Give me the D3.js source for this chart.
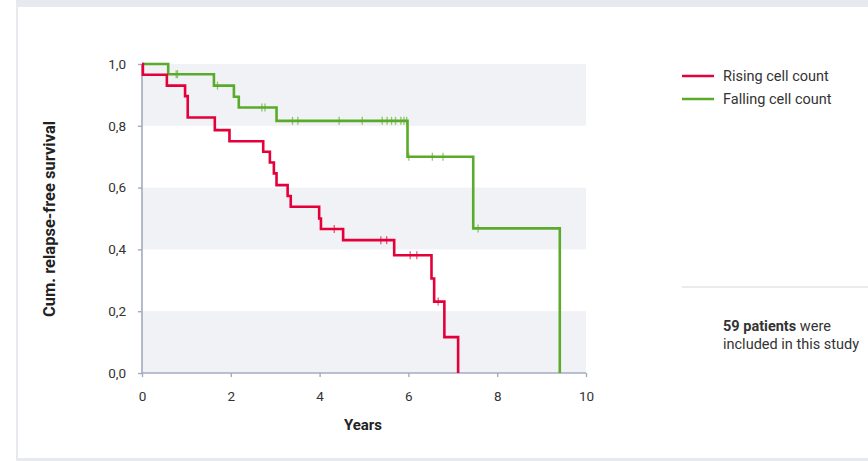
<!DOCTYPE html>
<html>
<head>
<meta charset="utf-8">
<script src="https://cdn.jsdelivr.net/npm/d3@7"></script>
<style>
  body { margin: 0; background: #fff; }
  svg { display: block; font-family: Roboto, "DejaVu Sans", sans-serif; }
</style>
</head>
<body>
<svg id="chart" width="868" height="461"></svg>
<script>
// step data
const risingTimes = [0, 0.02, 0.56, 0.97, 1.03, 1.64, 1.97, 2.73, 2.88, 2.97, 3.03, 3.28, 3.35, 3.99, 4.03, 4.53, 5.68, 6.52, 6.58, 6.81, 7.12];
const risingSurv  = [1.0, 0.965, 0.93, 0.896, 0.827, 0.786, 0.75, 0.716, 0.681, 0.646, 0.608, 0.573, 0.538, 0.50, 0.466, 0.43, 0.381, 0.306, 0.231, 0.116, 0];
const risingCensor = [4.33, 5.38, 5.51, 6.04, 6.19, 6.67];

const fallingTimes = [0, 0.59, 1.62, 2.07, 2.18, 3.03, 5.98, 7.46, 9.41];
const fallingSurv  = [1.0, 0.967, 0.93, 0.894, 0.859, 0.816, 0.70, 0.468, 0];
const fallingCensor = [0.77, 0.80, 1.70, 2.70, 2.77, 3.39, 3.51, 4.44, 4.96, 5.41, 5.52, 5.62, 5.71, 5.83, 5.90, 5.96, 6.01, 6.54, 6.78, 7.57];

const xTicks = [0, 2, 4, 6, 8, 10];
const yTicks = [0, 0.2, 0.4, 0.6, 0.8, 1.0];
const yTickLabels = ["0,0", "0,2", "0,4", "0,6", "0,8", "1,0"];
const bands = [[0, 0.2], [0.4, 0.6], [0.8, 1.0]];

const seriesNames = ["Rising cell count", "Falling cell count"];
const colors = ["#e4003b", "#5aab2b"];

const svg = d3.select("#chart");

// card frame
svg.append("rect").attr("x", 16).attr("y", 0).attr("width", 852).attr("height", 7).attr("fill", "#e8e9ee");
svg.append("rect").attr("x", 16).attr("y", 0).attr("width", 2).attr("height", 461).attr("fill", "#e8e9ee");
svg.append("rect").attr("x", 16).attr("y", 458).attr("width", 852).attr("height", 3).attr("fill", "#e8e9ee");

const x = d3.scaleLinear().domain([0, 10]).range([142, 586]);
const y = d3.scaleLinear().domain([0, 1]).range([373, 64]);

svg.append("g").selectAll("rect").data(bands).join("rect")
    .attr("x", x(0)).attr("width", x(10) - x(0))
    .attr("y", d => y(d[1])).attr("height", d => y(d[0]) - y(d[1]))
    .attr("fill", "#f1f2f5");

const axisColor = "#a3abbe";

const yAxis = svg.append("g").attr("transform", `translate(${x(0)},0)`)
    .call(d3.axisLeft(y).tickValues(yTicks).tickSize(4).tickPadding(12)
      .tickFormat((d, i) => yTickLabels[i]));
const xAxis = svg.append("g").attr("transform", `translate(0,${y(0)})`)
    .call(d3.axisBottom(x).tickValues(xTicks).tickSize(4).tickPadding(14));

[xAxis, yAxis].forEach(g => {
  g.select(".domain").attr("stroke", axisColor).attr("stroke-width", 1.6);
  g.selectAll(".tick line").attr("stroke", axisColor).attr("stroke-width", 1.4);
  g.selectAll(".tick text").attr("fill", "#333").style("font-size", "13.5px")
    .style("font-family", "Roboto, sans-serif");
});
// domain path includes outer ticks; redraw as plain lines
yAxis.select(".domain").attr("d", `M0,${y(0)}V${y(1)}`);
xAxis.select(".domain").attr("d", `M${x(0)},0H${x(10)}`);

svg.append("text").attr("x", 363).attr("y", 430).attr("text-anchor", "middle")
    .attr("font-weight", "bold").attr("font-size", 15).attr("fill", "#222").text("Years");
svg.append("text").attr("transform", "translate(55,219) rotate(-90)").attr("text-anchor", "middle")
    .attr("font-weight", "bold").attr("font-size", 16.5).attr("fill", "#222").text("Cum. relapse-free survival");

const line = d3.line().x(d => x(d[0])).y(d => y(d[1])).curve(d3.curveStepAfter);

function survAt(times, surv, t) {
  let v = surv[0];
  for (let i = 0; i < times.length; i++) if (times[i] <= t) v = surv[i];
  return v;
}

const series = [
  { times: risingTimes, surv: risingSurv, censor: risingCensor, color: colors[0] },
  { times: fallingTimes, surv: fallingSurv, censor: fallingCensor, color: colors[1] }
];

// falling drawn first so rising sits on top
[series[1], series[0]].forEach(s => {
  const pts = s.times.map((t, i) => [t, s.surv[i]]);
  svg.append("path").datum(pts).attr("d", line)
      .attr("fill", "none").attr("stroke", s.color).attr("stroke-width", 2.6)
      .attr("stroke-linejoin", "miter");
  svg.append("g").selectAll("line").data(s.censor).join("line")
      .attr("x1", d => x(d)).attr("x2", d => x(d))
      .attr("y1", d => y(survAt(s.times, s.surv, d)) - 4)
      .attr("y2", d => y(survAt(s.times, s.surv, d)) + 4)
      .attr("stroke", s.color).attr("stroke-width", 1.3).attr("opacity", 0.65);
});

// legend
const legend = svg.append("g");
seriesNames.forEach((name, i) => {
  const ly = 76 + i * 23;
  legend.append("line").attr("x1", 682).attr("x2", 714).attr("y1", ly).attr("y2", ly)
      .attr("stroke", colors[i]).attr("stroke-width", 2.5);
  legend.append("text").attr("x", 723).attr("y", ly + 5).attr("font-size", 14.5)
      .attr("fill", "#333").text(name);
});

svg.append("line").attr("x1", 682).attr("x2", 868).attr("y1", 287).attr("y2", 287)
    .attr("stroke", "#d3d8df").attr("stroke-width", 1.2);

const note = svg.append("text").attr("font-size", 14.5).attr("fill", "#333");
const t1 = note.append("tspan").attr("x", 723).attr("y", 331);
t1.append("tspan").attr("font-weight", "bold").text("59 patients");
t1.append("tspan").text(" were");
note.append("tspan").attr("x", 723).attr("y", 349).text("included in this study");
</script>
</body>
</html>
